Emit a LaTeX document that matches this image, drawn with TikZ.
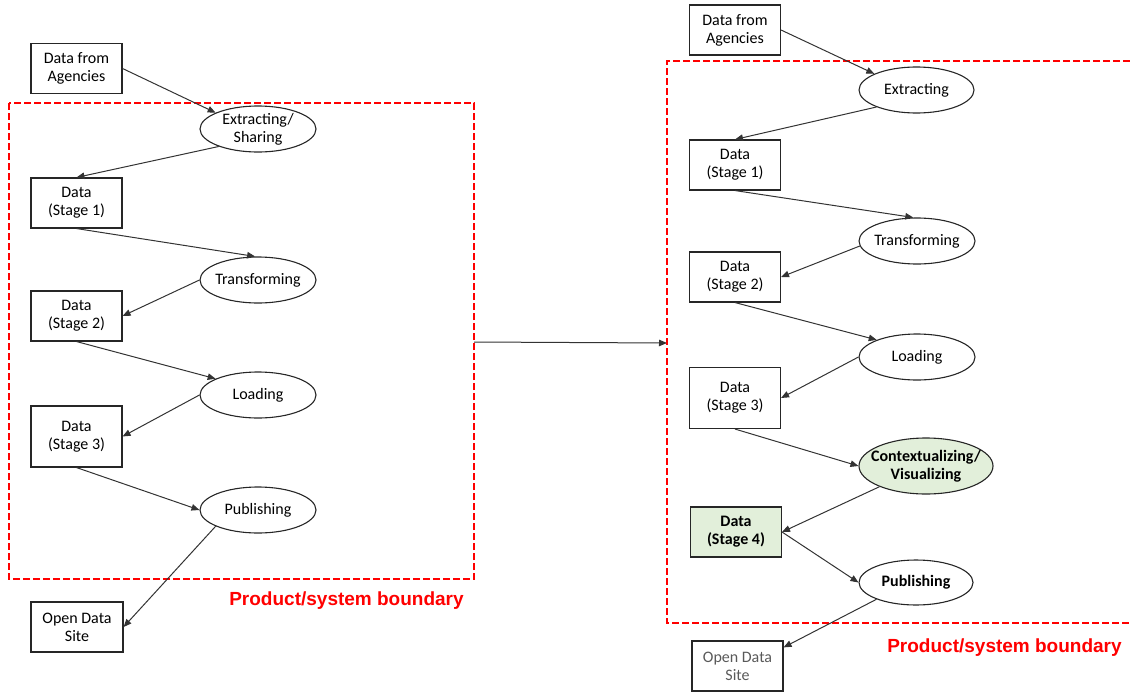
\documentclass[tikz,border=0pt]{standalone}
\usepackage{fontspec}
\setmainfont{Carlito}
\newfontfamily\boundaryfont{Liberation Sans}
\usetikzlibrary{shapes.geometric,arrows.meta}
\definecolor{stagegreen}{HTML}{E2EFDA}
\definecolor{edgegray}{HTML}{333333}
\definecolor{boundred}{HTML}{FF0000}
\begin{document}
\begin{tikzpicture}[x=1pt,y=-1pt,
  every node/.style={font=\fontsize{16}{18}\selectfont},
  databox/.style={draw=black!85, line width=1.1pt, minimum width=91pt, minimum height=50pt, inner sep=0pt, align=center},
  proc/.style={ellipse, draw=black!85, line width=1.1pt, minimum width=116pt, minimum height=46pt, inner sep=0pt},
  boldtext/.style={font=\fontsize{16}{18}\selectfont\bfseries},
  flow/.style={draw=edgegray, line width=1pt, -{Triangle[length=8pt,width=6.5pt]}},
  sysedge/.style={color=boundred, line width=1.2pt, dash pattern=on 7pt off 3pt},
  boundlabel/.style={text=boundred, font=\boundaryfont\fontsize{19}{22}\selectfont\bfseries}
]
\useasboundingbox (0,0) rectangle (1130,691);

% ---------- first process chain ----------
\draw[sysedge] (9,103) rectangle (474,579);
\node[boundlabel] (Llab) at (346.5,601) {Product/system boundary};

\node[databox] (Lsrc) at (76.5,68.5) {Data from\\Agencies};
\node[proc, label={[align=center]center:Extracting/\\Sharing}] (Lext) at (258,129) {};
\node[databox] (Ls1) at (76.5,203) {Data\\(Stage 1)};
\node[proc, label=center:Transforming] (Ltr) at (258,280) {};
\node[databox] (Ls2) at (76.5,316) {Data\\(Stage 2)};
\node[proc, label=center:Loading] (Lld) at (258,395) {};
\node[databox, minimum height=61pt] (Ls3) at (76.5,436.5) {Data\\(Stage 3)};
\node[proc, label=center:Publishing] (Lpub) at (258,510) {};
\node[databox, minimum width=92pt] (Lods) at (77,627) {Open Data\\Site};

\draw[flow] (Lsrc.east) -- (Lext.159);
\draw[flow] (Lext.204) -- (Ls1.north);
\draw[flow] (Ls1.south) -- (Ltr.97);
\draw[flow] (Ltr.west) -- (Ls2.east);
\draw[flow] (Ls2.south) -- (Lld.159);
\draw[flow] (Lld.west) -- (Ls3.east);
\draw[flow] (Ls3.south) -- (Lpub.west);
\draw[flow] (Lpub.201) -- (Lods.east);

% ---------- link between the two chains ----------
\coordinate (Lbe) at (474,342);
\coordinate (Rbw) at (667,343);
\draw[flow] (Lbe) -- (Rbw);

% ---------- extended process chain ----------
\draw[sysedge] (1130,61) -- (667,61) -- (667,623) -- (1130,623);
\node[boundlabel] (Rlab) at (1004.5,648) {Product/system boundary};

\node[databox] (Rsrc) at (735,30) {Data from\\Agencies};
\node[proc, minimum width=115pt, label=center:Extracting] (Rext) at (916.5,90) {};
\node[databox] (Rs1) at (735,165) {Data\\(Stage 1)};
\node[proc, label=center:Transforming] (Rtr) at (917,241) {};
\node[databox] (Rs2) at (735,277) {Data\\(Stage 2)};
\node[proc, label=center:Loading] (Rld) at (917,357) {};
\node[databox, minimum height=61pt] (Rs3) at (735,398) {Data\\(Stage 3)};
\node[proc, fill=stagegreen, minimum width=134pt, minimum height=56pt,
      label={[align=center, boldtext]center:Contextualizing/\\Visualizing}] (Rctx) at (926,466) {};
\node[databox, fill=stagegreen, boldtext] (Rs4) at (736,532) {Data\\(Stage 4)};
\node[proc, minimum width=114pt, minimum height=45pt, label={[boldtext]center:Publishing}] (Rpub) at (916,582.5) {};
\node[databox, text=black!65] (Rods) at (737.5,666) {Open Data\\Site};

\draw[flow] (Rsrc.east) -- (Rext.159);
\draw[flow] (Rext.203) -- (Rs1.north);
\draw[flow] (Rs1.south) -- (Rtr.99);
\draw[flow] (Rtr.185) -- (Rs2.east);
\draw[flow] (Rs2.south) -- (Rld.157);
\draw[flow] (Rld.west) -- (Rs3.east);
\draw[flow] (Rs3.south) -- (Rctx.west);
\draw[flow] (Rctx.204) -- (Rs4.east);
\draw[flow] (Rs4.east) -- (Rpub.west);
\draw[flow] (Rpub.203) -- (Rods.22);
\end{tikzpicture}
\end{document}
